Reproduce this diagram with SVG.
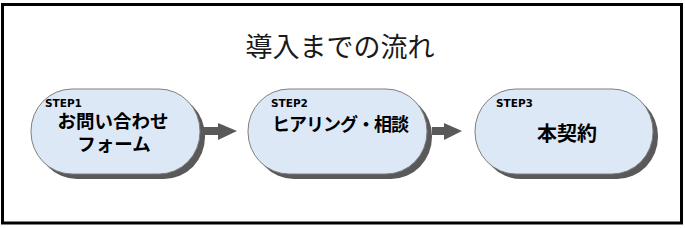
<svg xmlns="http://www.w3.org/2000/svg" width="685" height="228" viewBox="0 0 685 228">
<style>
.frame{fill:#fff;stroke:#000;stroke-width:3}
.shadow{fill:#595959}
.pill{fill:#dce8f5;stroke:#7f7f7f;stroke-width:1}
.step{font-family:"DejaVu Sans",sans-serif;font-weight:bold;font-size:10.5px;fill:#000}
.lbl{font-family:"Noto Sans CJK JP",sans-serif;font-weight:bold;fill:#000;text-anchor:middle}
.title{font-family:"Noto Sans CJK JP",sans-serif;font-size:27px;fill:#1a1a1a;text-anchor:middle}
.arrow{fill:#595959}
</style>
<rect class="frame" x="2.5" y="4.5" width="679" height="218.5"/>
<text class="title" x="340" y="57">導入までの流れ</text>
<g id="step1">
<rect class="shadow" x="36" y="94" width="169" height="85" rx="41" ry="42"/>
<rect class="pill" x="31" y="89" width="169" height="85" rx="41" ry="42"/>
<text class="step" x="45" y="107">STEP1</text>
<text class="lbl" x="113" y="128" font-size="18.5">お問い合わせ</text>
<text class="lbl" x="114" y="151" font-size="18.5">フォーム</text>
</g>
<g id="step2">
<rect class="shadow" x="253" y="94" width="179" height="85" rx="41" ry="42"/>
<rect class="pill" x="248" y="89" width="179" height="85" rx="41" ry="42"/>
<text class="step" x="271" y="107">STEP2</text>
<text class="lbl" x="340" y="131" font-size="18" letter-spacing="-1">ヒアリング・相談</text>
</g>
<g id="step3">
<rect class="shadow" x="480" y="94" width="178" height="85" rx="41" ry="42"/>
<rect class="pill" x="475" y="89" width="178" height="85" rx="41" ry="42"/>
<text class="step" x="496" y="107">STEP3</text>
<text class="lbl" x="567" y="141" font-size="20">本契約</text>
</g>
<g id="connectors">
<polygon class="arrow" points="204,127 218,127 218,123 237,131 218,140 218,135 204,135"/>
<polygon class="arrow" points="432,127 444,127 444,123 462,131 444,140 444,135 432,135"/>
</g>
</svg>
